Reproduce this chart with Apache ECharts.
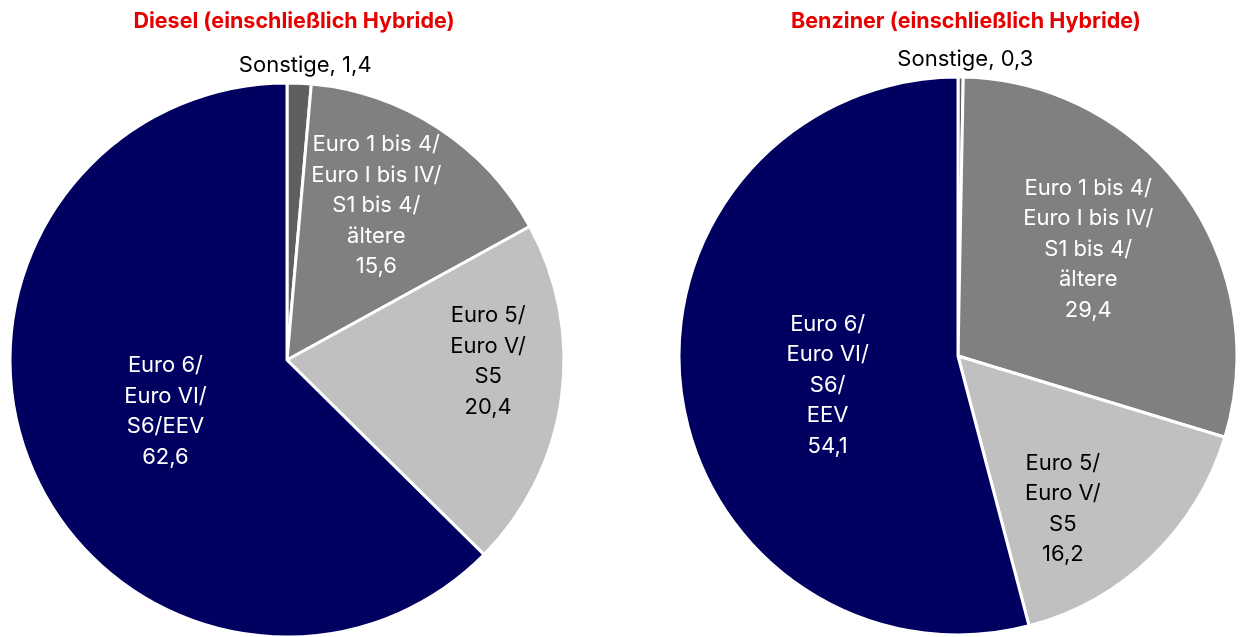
<!DOCTYPE html>
<html>
<head>
<meta charset="utf-8">
<title>Abgasnormen Diesel / Benziner</title>
<script src="https://cdn.jsdelivr.net/npm/echarts@6/dist/echarts.min.js"></script>
<style>
  html, body { margin: 0; padding: 0; background: #fff; }
  #chart { width: 1240px; height: 637px; }
</style>
</head>
<body>
<div id="chart"></div>
<script>
// Kategorien (Beschriftung je Pie)
var dieselNames = ['Sonstige', 'Euro 1 bis 4/\nEuro I bis IV/\nS1 bis 4/\nältere', 'Euro 5/\nEuro V/\nS5', 'Euro 6/\nEuro VI/\nS6/EEV'];
var benzinNames = ['Sonstige', 'Euro 1 bis 4/\nEuro I bis IV/\nS1 bis 4/\nältere', 'Euro 5/\nEuro V/\nS5', 'Euro 6/\nEuro VI/\nS6/\nEEV'];
// Anteile in %
var dieselValues = [1.4, 15.6, 20.4, 62.6];
var benzinValues = [0.3, 29.4, 16.2, 54.1];

var sliceColors = ['#5f5f5f', '#808080', '#c0c0c0', '#000060'];
var labelColors = ['#000', '#fff', '#000', '#fff'];
// Verschiebung der Labels gegenüber der Standardposition (inside)
var dieselOffsets = [[12, -153], [12, -36], [61, -18], [9, -3]];
var benzinOffsets = [[6, -154], [15, -23], [6, 50], [11, 11]];

function fmt(v) { return String(v).replace('.', ','); }

function buildData(names, values, offsets) {
  return values.map(function (v, i) {
    var txt = i === 0 ? names[i] + ', ' + fmt(v) : names[i] + '\n' + fmt(v);
    return {
      name: names[i],
      value: v,
      itemStyle: { color: sliceColors[i] },
      label: { formatter: txt, color: labelColors[i], offset: offsets[i] }
    };
  });
}

var chart = echarts.init(document.getElementById('chart'));

var pieBase = {
  type: 'pie',
  startAngle: 90,
  clockwise: true,
  animation: false,
  silent: true,
  itemStyle: { borderColor: '#fff', borderWidth: 3 },
  label: {
    show: true,
    position: 'inside',
    fontFamily: 'Inter',
    fontSize: 22,
    lineHeight: 30.5,
    align: 'center'
  },
  labelLine: { show: false }
};

chart.setOption({
  backgroundColor: '#fff',
  title: [
    {
      text: 'Diesel (einschließlich Hybride)',
      left: 289, top: 6,
      textAlign: 'center',
      textStyle: { color: '#e60000', fontFamily: 'Inter', fontWeight: 'bold', fontSize: 21.5 }
    },
    {
      text: 'Benziner (einschließlich Hybride)',
      left: 961, top: 6,
      textAlign: 'center',
      textStyle: { color: '#e60000', fontFamily: 'Inter', fontWeight: 'bold', fontSize: 21.5 }
    }
  ],
  series: [
    Object.assign({}, pieBase, {
      name: 'Diesel',
      center: [287, 360],
      radius: [0, 277],
      data: buildData(dieselNames, dieselValues, dieselOffsets)
    }),
    Object.assign({}, pieBase, {
      name: 'Benziner',
      center: [958, 356],
      radius: [0, 279],
      data: buildData(benzinNames, benzinValues, benzinOffsets)
    })
  ]
});
</script>
</body>
</html>
